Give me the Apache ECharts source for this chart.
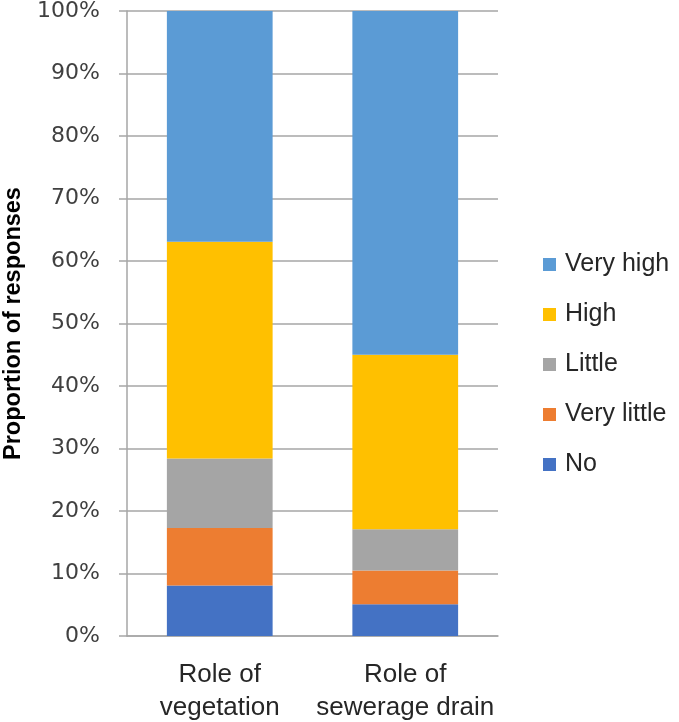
<!DOCTYPE html>
<html><head><meta charset="utf-8">
<script src="https://cdn.jsdelivr.net/npm/echarts@6/dist/echarts.min.js"></script>
<style>html,body{margin:0;padding:0;background:#fff}#c{width:679px;height:722px}</style>
</head><body><div id="c"></div>
<script>
const categories = ['Role of\nvegetation', 'Role of\nsewerage drain'];
const seriesNames = ['No', 'Very little', 'Little', 'High', 'Very high'];
const noVals = [8.1, 5.1];
const veryLittleVals = [9.2, 5.4];
const littleVals = [11.1, 6.6];
const highVals = [34.7, 27.9];
const veryHighVals = [36.9, 55.0];
const yTicks = [0, 10, 20, 30, 40, 50, 60, 70, 80, 90, 100];
const colors = ['#4472C4', '#ED7D31', '#A5A5A5', '#FFC000', '#5B9BD5'];
const values = [noVals, veryLittleVals, littleVals, highVals, veryHighVals];

const chart = echarts.init(document.getElementById('c'));
chart.setOption({
  animation: false,
  grid: {left: 127, right: 181, top: 11, bottom: 86, containLabel: false, outerBoundsMode: 'none'},
  legend: {
    orient: 'vertical', left: 538, top: 247,
    data: seriesNames.slice().reverse(),
    itemWidth: 13, itemHeight: 13, itemGap: 25, icon: 'rect',
    textStyle: {fontFamily: 'Liberation Sans', fontSize: 25, color: '#262626', lineHeight: 22, padding: [0,0,0,4]}
  },
  xAxis: {
    type: 'category', data: categories,
    axisLine: {lineStyle: {color: '#A6A6A6', width: 1.5}},
    axisTick: {show: false},
    axisLabel: {interval: 0, fontFamily: 'Liberation Sans', fontSize: 26, color: '#262626', lineHeight: 33, margin: 22}
  },
  yAxis: {
    type: 'value', min: 0, max: 100, interval: 10,
    name: 'Proportion of responses', nameLocation: 'middle', nameGap: 101,
    nameTextStyle: {fontFamily: 'Liberation Sans', fontSize: 23.5, fontWeight: 'bold', color: '#000'},
    axisLine: {show: true, lineStyle: {color: '#A6A6A6', width: 1.5}},
    axisTick: {show: true, length: 8, lineStyle: {color: '#A6A6A6', width: 1.5}},
    splitLine: {lineStyle: {color: '#A6A6A6', width: 1.5}},
    axisLabel: {fontFamily: 'DejaVu Sans', fontSize: 22, color: '#404040', margin: 27,
      formatter: v => yTicks.includes(v) ? v + '%' : ''}
  },
  series: seriesNames.map((n, i) => ({
    name: n, type: 'bar', stack: 'total', data: values[i],
    barCategoryGap: '43%',
    itemStyle: {color: colors[i]}
  }))
});
</script></body></html>
